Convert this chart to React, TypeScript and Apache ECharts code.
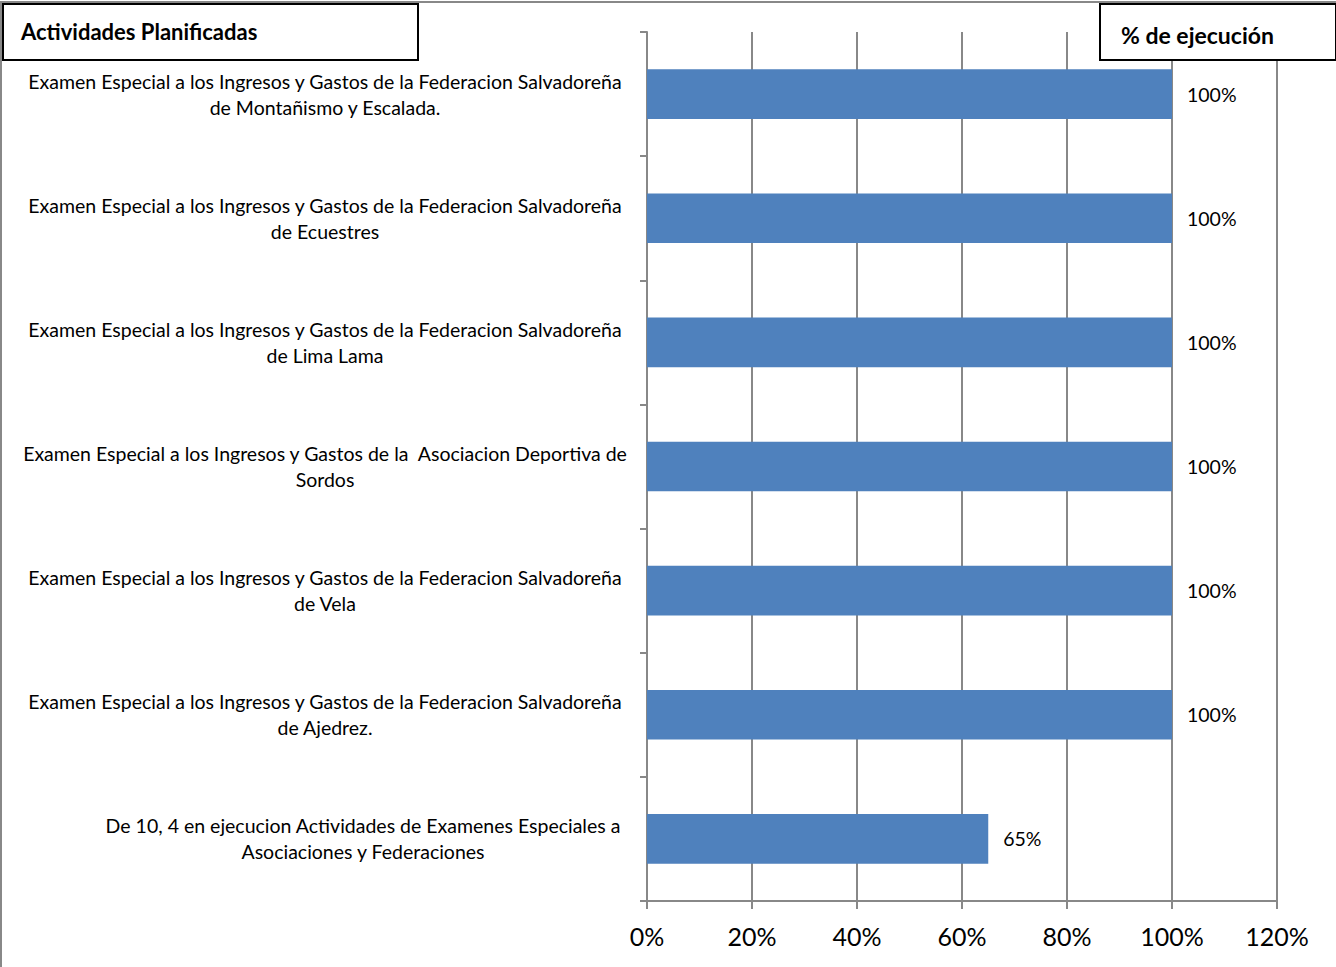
import React, { useEffect, useRef } from "react";
import * as echarts from "echarts";

const categories: string[] = [
  "Examen Especial a los Ingresos y Gastos de la Federacion Salvadoreña\nde Montañismo y Escalada.",
  "Examen Especial a los Ingresos y Gastos de la Federacion Salvadoreña\nde Ecuestres",
  "Examen Especial a los Ingresos y Gastos de la Federacion Salvadoreña\nde Lima Lama",
  "Examen Especial a los Ingresos y Gastos de la  Asociacion Deportiva de\nSordos",
  "Examen Especial a los Ingresos y Gastos de la Federacion Salvadoreña\nde Vela",
  "Examen Especial a los Ingresos y Gastos de la Federacion Salvadoreña\nde Ajedrez.",
  "De 10, 4 en ejecucion Actividades de Examenes Especiales a\nAsociaciones y Federaciones",
];
const values: number[] = [1, 1, 1, 1, 1, 1, 0.65];
const leftTitle = "Actividades Planificadas";
const rightTitle = "% de ejecución";

const FONT = "Lato, 'Open Sans', sans-serif";

export default function App() {
  const ref = useRef<HTMLDivElement>(null);
  useEffect(() => {
    if (!ref.current) return;
    const chart = echarts.init(ref.current, null, { renderer: "svg" });
    const lastIdx = categories.length - 1;
    chart.setOption({
      animation: false,
      backgroundColor: "#ffffff",
      textStyle: { fontFamily: FONT },
      grid: { left: 647, right: 59, top: 32, bottom: 66, containLabel: false },
      xAxis: {
        type: "value",
        min: 0,
        max: 1.2,
        interval: 0.2,
        axisLine: { show: true, lineStyle: { color: "#888888", width: 2 } },
        axisTick: { show: true, length: 8, lineStyle: { color: "#888888", width: 2 } },
        splitLine: { show: true, lineStyle: { color: "#888888", width: 2 } },
        axisLabel: {
          color: "#000000",
          fontSize: 25,
          fontFamily: FONT,
          margin: 22,
          formatter: (v: number) => `${Math.round(v * 100)}%`,
        },
      },
      yAxis: {
        type: "category",
        inverse: true,
        data: categories,
        axisLine: { show: true, lineStyle: { color: "#888888", width: 2 } },
        axisTick: { show: true, length: 7, lineStyle: { color: "#888888", width: 2 } },
        splitLine: { show: false },
        axisLabel: {
          margin: 322,
          align: "center",
          verticalAlign: "middle",
          color: "#000000",
          fontSize: 19.5,
          lineHeight: 26,
          fontFamily: FONT,
          formatter: (v: string, i: number) => {
            const key = i === lastIdx ? "b" : "a";
            return v
              .split("\n")
              .map((l) => `{${key}|${l}}`)
              .join("\n");
          },
          rich: {
            a: { fontSize: 19.5, lineHeight: 26, color: "#000", fontFamily: FONT },
            b: { fontSize: 19.5, lineHeight: 26, color: "#000", fontFamily: FONT, padding: [0, 0, 0, 76] },
          },
        },
      },
      series: [
        {
          type: "bar",
          data: values,
          barWidth: "40%",
          itemStyle: { color: "#4F81BD" },
          label: {
            show: true,
            position: "right",
            distance: 15,
            color: "#000000",
            fontSize: 19.5,
            fontFamily: FONT,
            formatter: (p: any) => `${Math.round(p.value * 100)}%`,
          },
        },
      ],
      graphic: [
        {
          type: "rect",
          shape: { x: 1, y: 2, width: 1340, height: 970 },
          style: { fill: "none", stroke: "#888888", lineWidth: 2 },
          z: 10,
        },
        {
          type: "rect",
          shape: { x: 3, y: 4, width: 415, height: 56 },
          style: { fill: "#ffffff", stroke: "#000000", lineWidth: 2 },
          z: 11,
        },
        {
          type: "text",
          x: 21,
          y: 31,
          style: {
            text: leftTitle,
            fontSize: 22,
            fontWeight: "bold",
            fontFamily: FONT,
            fill: "#000",
            verticalAlign: "middle",
          },
          z: 12,
        },
        {
          type: "rect",
          shape: { x: 1100, y: 4, width: 236, height: 56 },
          style: { fill: "#ffffff", stroke: "#000000", lineWidth: 2 },
          z: 11,
        },
        {
          type: "text",
          x: 1121,
          y: 35,
          style: {
            text: rightTitle,
            fontSize: 23,
            fontWeight: "bold",
            fontFamily: FONT,
            fill: "#000",
            verticalAlign: "middle",
          },
          z: 12,
        },
      ],
    });
    return () => chart.dispose();
  }, []);
  return (
    <div
      ref={ref}
      style={{ position: "fixed", left: 0, top: 0, width: 1336, height: 967 }}
    />
  );
}
